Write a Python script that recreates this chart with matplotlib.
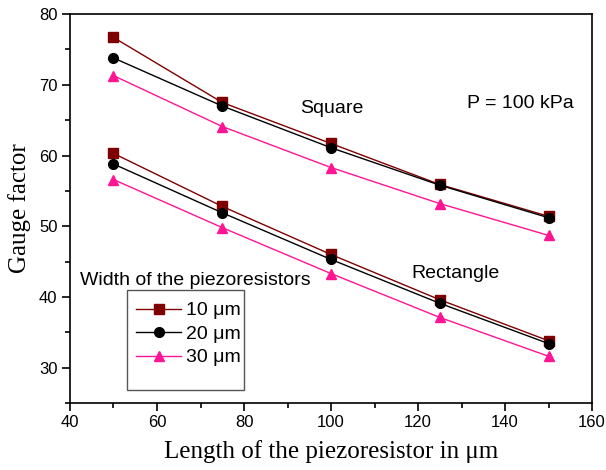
import matplotlib
matplotlib.use("Agg")
import matplotlib.pyplot as plt
from matplotlib.patches import Rectangle
from matplotlib.ticker import MultipleLocator

# piezoresistor length (um)
length = [50, 75, 100, 125, 150]

# gauge factor, square membrane
square_10 = [76.7, 67.5, 61.7, 55.9, 51.4]
square_20 = [73.8, 67.0, 61.1, 55.8, 51.2]
square_30 = [71.3, 64.1, 58.3, 53.2, 48.7]

# gauge factor, rectangular membrane
rect_10 = [60.3, 52.8, 46.0, 39.6, 33.8]
rect_20 = [58.8, 51.9, 45.3, 39.1, 33.4]
rect_30 = [56.6, 49.8, 43.3, 37.1, 31.6]

widths = ["10 \u03bcm", "20 \u03bcm", "30 \u03bcm"]
colors = ["#7f0000", "#000000", "#ff1493"]
markers = ["s", "o", "^"]

plt.rcParams['font.family'] = ['Liberation Sans', 'DejaVu Sans']
serif = ['Liberation Serif', 'DejaVu Serif']

fig = plt.figure(figsize=(6.06, 4.70), dpi=100)
ax = fig.add_axes([0.1155, 0.1426, 0.8615, 0.8274])

handles = []
for sq, rc, lab, c, m in zip([square_10, square_20, square_30],
                             [rect_10, rect_20, rect_30],
                             widths, colors, markers):
    h, = ax.plot(length, sq, color=c, marker=m, markersize=7, lw=1, label=lab)
    ax.plot(length, rc, color=c, marker=m, markersize=7, lw=1)
    handles.append(h)

ax.set_xlim(40, 160)
ax.set_ylim(25, 80)
ax.xaxis.set_major_locator(MultipleLocator(20))
ax.xaxis.set_minor_locator(MultipleLocator(10))
ax.yaxis.set_major_locator(MultipleLocator(10))
ax.yaxis.set_minor_locator(MultipleLocator(5))
ax.tick_params(which='both', direction='out', top=False, right=False, labelsize=12)
ax.tick_params(which='major', length=6, width=1.2, pad=3)
ax.tick_params(which='minor', length=3.5, width=1.2)
for s in ax.spines.values():
    s.set_linewidth(1.2)

ax.set_xlabel("Length of the piezoresistor in \u03bcm", family=serif, fontsize=18, labelpad=7)
ax.set_ylabel("Gauge factor", family=serif, fontsize=18, labelpad=6)

ax.text(0.441, 0.745, "Square", transform=ax.transAxes, fontsize=14, va='baseline')
ax.text(0.761, 0.758, "P = 100 kPa", transform=ax.transAxes, fontsize=14, va='baseline')
ax.text(0.653, 0.321, "Rectangle", transform=ax.transAxes, fontsize=14, va='baseline')
ax.text(0.019, 0.303, "Width of the piezoresistors", transform=ax.transAxes,
        fontsize=14, va='baseline')

# legend box with some empty room below the entries
ax.add_patch(Rectangle((0.109, 0.033), 0.224, 0.257, transform=ax.transAxes,
                       fill=False, edgecolor='#555555', lw=1, zorder=5))
ax.legend(handles=handles, loc='upper left', bbox_to_anchor=(0.105, 0.29),
          frameon=False, fontsize=14, handlelength=2.3, handletextpad=0.26,
          labelspacing=0.3, borderaxespad=0, borderpad=0.6)

fig.savefig("out.png", dpi=100)
